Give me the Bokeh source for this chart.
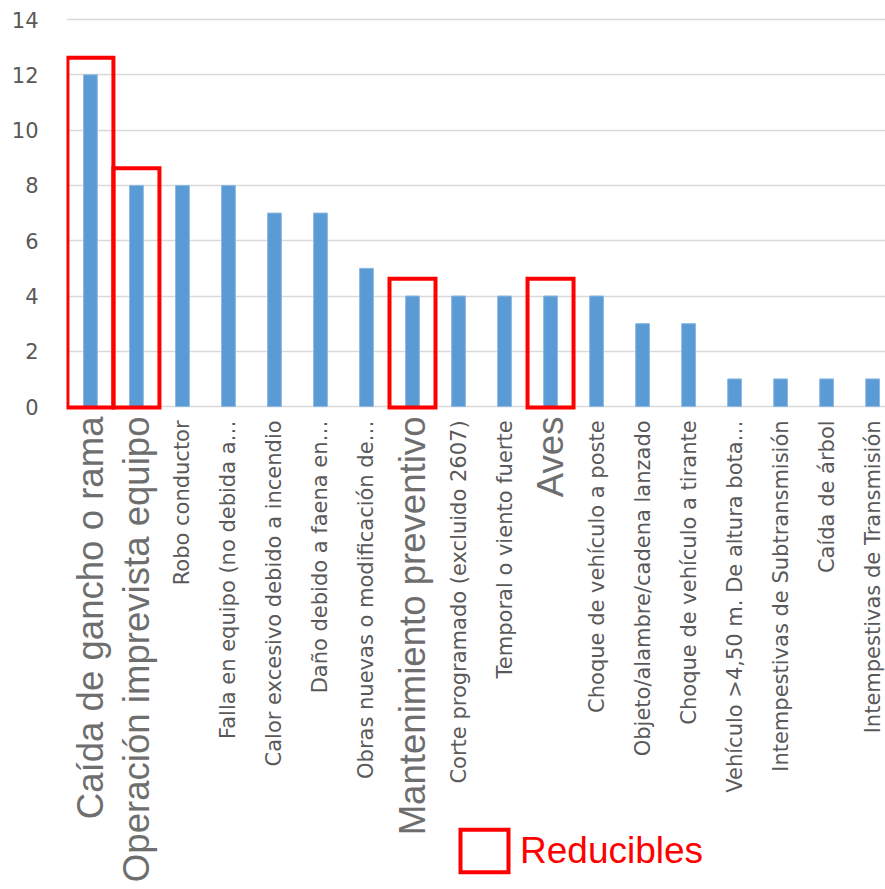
import numpy as np
from bokeh.plotting import figure
from bokeh.models import Range1d, FixedTicker, Legend, LegendItem, ColumnDataSource
from bokeh.core.properties import value
from bokeh.embed import file_html
from bokeh.resources import INLINE

categories = [
    "Caída de gancho o rama",
    "Operación imprevista equipo",
    "Robo conductor",
    "Falla en equipo (no debida a…",
    "Calor excesivo debido a incendio",
    "Daño debido a faena en…",
    "Obras nuevas o modificación de…",
    "Mantenimiento preventivo",
    "Corte programado (excluido 2607)",
    "Temporal o viento fuerte",
    "Aves",
    "Choque de vehículo a poste",
    "Objeto/alambre/cadena lanzado",
    "Choque de vehículo a tirante",
    "Vehículo >4,50 m. De altura bota…",
    "Intempestivas de Subtransmisión",
    "Caída de árbol",
    "Intempestivas de Transmisión",
]
counts = [12, 8, 8, 8, 7, 7, 5, 4, 4, 4, 4, 4, 3, 3, 1, 1, 1, 1]
reducible = [True, True, False, False, False, False, False, True, False, False,
             True, False, False, False, False, False, False, False]
y_ticks = [0, 2, 4, 6, 8, 10, 12, 14]
legend_label = "Reducibles"

idx = np.arange(len(categories))
counts_arr = np.array(counts, dtype=float)
red_mask = np.array(reducible)

W, H = 885, 889
p = figure(width=W, height=H, output_backend="svg", toolbar_location=None,
           x_range=Range1d(-0.52, 17.28), y_range=Range1d(-17.47, 14.69),
           x_axis_location=None, min_border_left=66, min_border_right=0,
           min_border_top=0, min_border_bottom=0)
p.outline_line_color = None
p.background_fill_color = "white"
p.border_fill_color = "white"

# y axis
p.yaxis.ticker = FixedTicker(ticks=y_ticks)
p.yaxis.axis_line_color = None
p.yaxis.major_tick_line_color = None
p.yaxis.minor_tick_line_color = None
p.yaxis.major_label_text_font = "DejaVu Sans"
p.yaxis.major_label_text_font_size = "21px"
p.yaxis.major_label_text_color = "#595959"
p.yaxis.major_label_standoff = 22

p.xgrid.visible = False
p.ygrid.ticker = FixedTicker(ticks=y_ticks)
p.ygrid.grid_line_color = "#d9d9d9"
p.ygrid.grid_line_width = 1.5

# bars
p.vbar(x=idx, top=counts_arr, bottom=0, width=0.3,
       fill_color="#5B9BD5", line_color="#8DB8E2", line_width=1)

# red boxes around reducible categories
box_src = ColumnDataSource(dict(
    left=idx[red_mask] - 0.5, right=idx[red_mask] + 0.5,
    bottom=np.zeros(red_mask.sum()) - 0.03, top=counts_arr[red_mask] + 0.62))
boxes = p.quad(left="left", right="right", bottom="bottom", top="top", source=box_src,
               fill_alpha=0, line_color="#FF0000", line_width=4, line_join="miter")

# category labels (rotated)
small_src = ColumnDataSource(dict(
    x=idx[~red_mask], y=np.full((~red_mask).sum(), -0.5),
    text=[c for c, r in zip(categories, reducible) if not r]))
big_src = ColumnDataSource(dict(
    x=idx[red_mask], y=np.full(red_mask.sum(), -0.36),
    text=[c for c, r in zip(categories, reducible) if r]))
p.text(x="x", y="y", text="text", source=small_src, angle=np.pi / 2,
       text_align="right", text_baseline="middle",
       text_font=value("DejaVu Sans"), text_font_size="21px", text_color="#595959")
p.text(x="x", y="y", text="text", source=big_src, angle=np.pi / 2,
       text_align="right", text_baseline="middle",
       text_font=value("Liberation Sans"), text_font_size="36.6px", text_color="#6E6E6E")

legend = Legend(items=[LegendItem(label=legend_label, renderers=[boxes])],
                location=(388, 12), glyph_width=60, glyph_height=53,
                label_text_font="Liberation Sans", label_text_font_size="37px",
                label_text_color="#FF0000", label_standoff=6, padding=0, margin=0,
                border_line_alpha=0, background_fill_alpha=0)
p.add_layout(legend)

open("out.html", "w").write(file_html(p, INLINE))
